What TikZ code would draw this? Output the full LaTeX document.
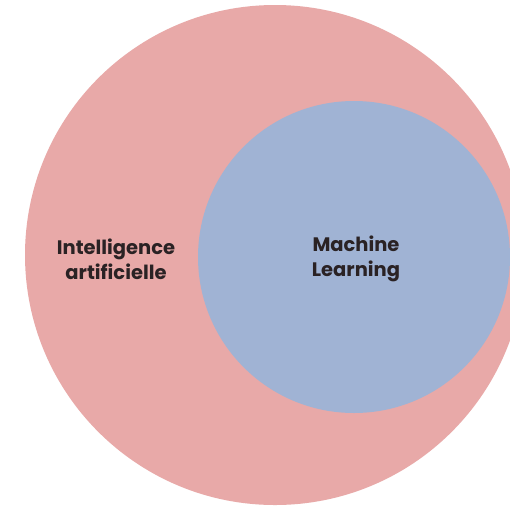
\documentclass[tikz,border=0pt]{standalone}
\usepackage{fontspec}
\setmainfont{Poppins}
\definecolor{aipink}{HTML}{E8A9A8}
\definecolor{mlblue}{HTML}{A0B3D4}
\definecolor{txt}{HTML}{2A2224}
\begin{document}
\begin{tikzpicture}[x=1pt,y=-1pt,
  lbl/.style={font=\fontsize{19.5}{25}\selectfont\bfseries, text=txt, align=center, inner sep=0pt}]
\useasboundingbox (0,0) rectangle (510,506);
\clip (0,0) rectangle (510,506);
\fill[white] (0,0) rectangle (510,506);
\node[circle, fill=aipink, minimum size=500pt, inner sep=0pt] (ai) at (275,255) {};
\node[circle, fill=mlblue, minimum size=312pt, inner sep=0pt] (ml) at (354,257) {};
\node[lbl] (ailbl) at (116,259) {Intelligence\\artificielle};
\node[lbl] (mllbl) at (356,259) {Machine\\Learning};
\end{tikzpicture}
\end{document}
